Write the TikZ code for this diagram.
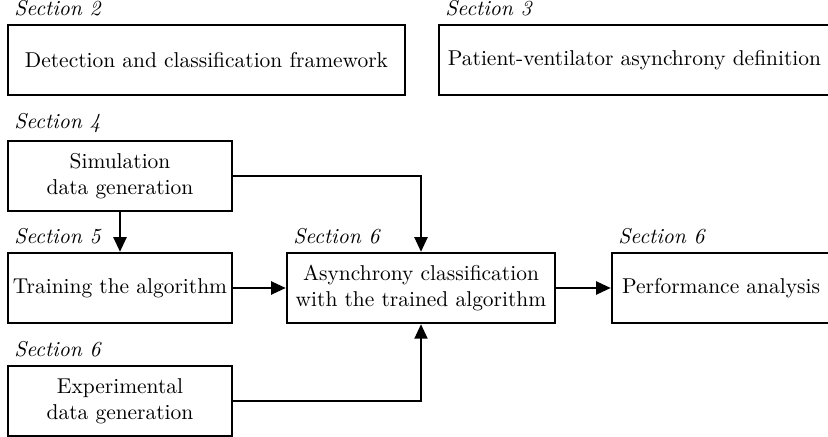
\documentclass[tikz,border=0pt]{standalone}
\usepackage{tikz}
\usetikzlibrary{arrows.meta}

\begin{document}
\begin{tikzpicture}[x=0.466pt,y=-0.466pt,>={Triangle[length=6.8pt,width=6pt]}]
 \tikzstyle{block} = [draw=black,line width=1.1pt,align=center,minimum height=32.6pt,inner sep=2pt]
 \tikzstyle{flow} = [->,line width=1.1pt]
 \tikzstyle{sec} = [anchor=south west,font=\itshape]

  \useasboundingbox (0,0) rectangle (828,437);

  % Top row
  \node[block,minimum width=185pt,label={[sec]north west:Section 2}] (frame) at (206.5,60) {Detection and classification framework};
  \node[block,minimum width=182.2pt,label={[sec]north west:Section 3}] (pva) at (634.5,60) {Patient-ventilator asynchrony definition};

  % Data and training
  \node[block,minimum width=104.4pt,label={[sec]north west:Section 4}] (sim) at (120,176) {Simulation\\data generation};
  \node[block,minimum width=104.4pt,label={[sec]north west:Section 5}] (train) at (120,288) {Training the algorithm};
  \node[block,minimum width=104.4pt,label={[sec]north west:Section 6}] (exp) at (120,401) {Experimental\\data generation};

  % Classification and analysis
  \node[block,minimum width=124.9pt,label={[sec]north west:Section 6}] (async) at (421,288) {Asynchrony classification\\with the trained algorithm};
  \node[block,minimum width=101.6pt,label={[sec]north west:Section 6}] (perf) at (721,288) {Performance analysis};

  % Arrows
  \draw[flow] (sim) -- (train);
  \draw[flow] (sim) -| (async);
  \draw[flow] (train) -- (async);
  \draw[flow] (exp) -| (async);
  \draw[flow] (async) -- (perf);

\end{tikzpicture}
\end{document}
